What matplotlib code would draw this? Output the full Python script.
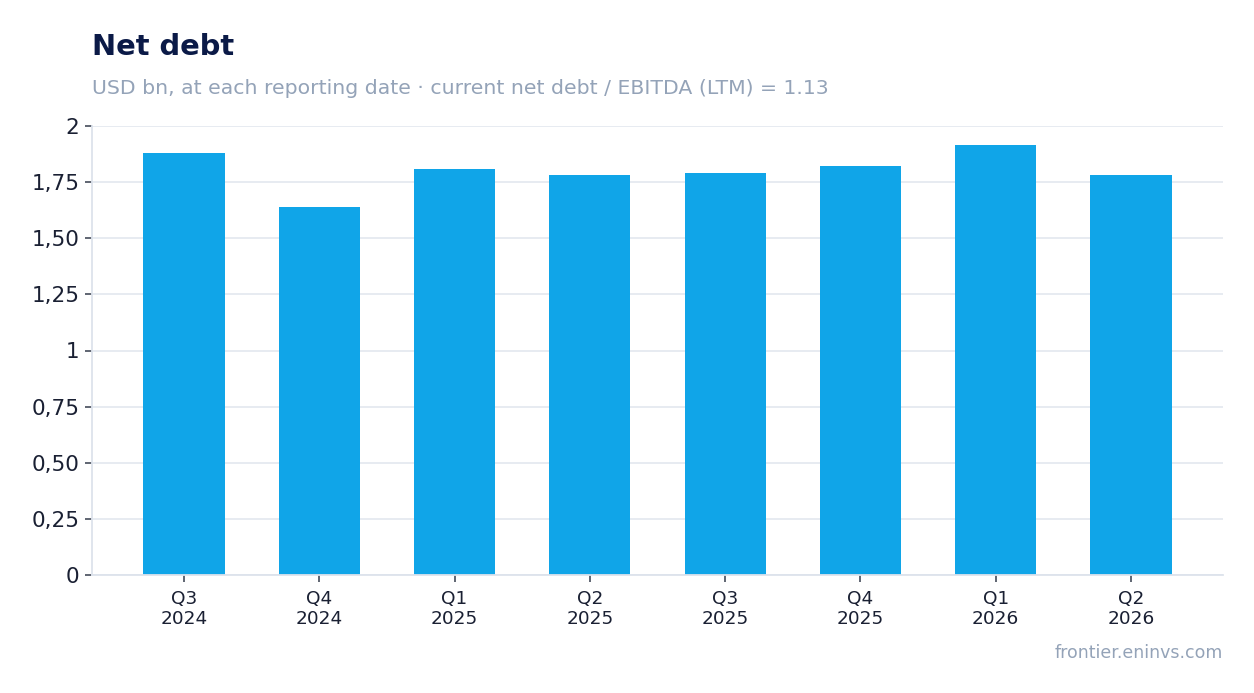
import matplotlib.pyplot as plt
from matplotlib.ticker import FuncFormatter

quarters = ['Q3\n2024', 'Q4\n2024', 'Q1\n2025', 'Q2\n2025',
            'Q3\n2025', 'Q4\n2025', 'Q1\n2026', 'Q2\n2026']
net_debt = [1.88, 1.64, 1.81, 1.78, 1.79, 1.82, 1.915, 1.78]
y_ticks = [0, 0.25, 0.5, 0.75, 1, 1.25, 1.5, 1.75, 2]

TITLE = 'Net debt'
SUBTITLE = 'USD bn, at each reporting date \u00b7 current net debt / EBITDA (LTM) = 1.13'
SOURCE = 'frontier.eninvs.com'

BAR_COLOR = '#10a5e8'
GRID_COLOR = '#e5e9f0'
TEXT_COLOR = '#1a2033'
MUTED = '#94a3b8'


def fmt_tick(v, pos):
    if abs(v - round(v)) < 1e-9:
        return str(int(round(v)))
    return f'{v:.2f}'.replace('.', ',')


fig = plt.figure(figsize=(12.54, 6.93), dpi=100)
ax = fig.add_axes([92 / 1254, 1 - 575 / 693, (1223 - 92) / 1254, (575 - 126) / 693])

ax.bar(range(len(quarters)), net_debt, width=0.6, color=BAR_COLOR, zorder=2)

ax.set_xlim(-0.68, len(quarters) - 1 + 0.68)
ax.set_ylim(0, 2)
ax.set_yticks(y_ticks)
ax.yaxis.set_major_formatter(FuncFormatter(fmt_tick))
ax.set_xticks(range(len(quarters)))
ax.set_xticklabels(quarters)

ax.grid(axis='y', color=GRID_COLOR, linewidth=1.3, zorder=0)
ax.set_axisbelow(True)

for side in ['top', 'right']:
    ax.spines[side].set_visible(False)
for side in ['left', 'bottom']:
    ax.spines[side].set_color('#dde3ec')
    ax.spines[side].set_linewidth(1.3)

ax.tick_params(axis='y', length=5, width=1.2, color='#444b5a',
               labelsize=15.5, labelcolor=TEXT_COLOR, pad=4)
ax.tick_params(axis='x', length=5, width=1.2, color='#444b5a',
               labelsize=13.3, labelcolor=TEXT_COLOR, pad=5.5)
for lbl in ax.get_xticklabels():
    lbl.set_linespacing(1.17)

fig.text(92 / 1254, 1 - 55 / 693, TITLE, fontsize=20.8, fontweight='bold',
         color='#0b1a47', ha='left', va='baseline')
fig.text(92 / 1254, 1 - 94.5 / 693, SUBTITLE, fontsize=14.7,
         color=MUTED, ha='left', va='baseline')
fig.text(1223 / 1254, 1 - 658 / 693, SOURCE, fontsize=12.5,
         color=MUTED, ha='right', va='baseline')

fig.savefig('out.png', dpi=100, facecolor='white')
